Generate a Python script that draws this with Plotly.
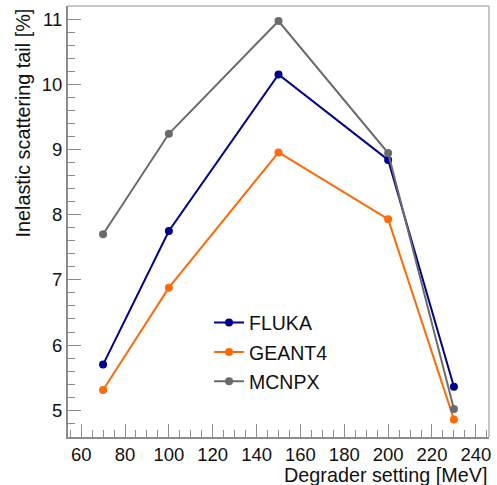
import plotly.graph_objects as go

energy = [70, 100, 150, 200, 230]
fluka = [5.70, 7.75, 10.15, 8.84, 5.36]
geant4 = [5.31, 6.88, 8.955, 7.93, 4.86]
mcnpx = [7.70, 9.24, 10.97, 8.945, 5.02]

series = [("FLUKA", fluka, "#00008f"), ("GEANT4", geant4, "#ff6a08"), ("MCNPX", mcnpx, "#6b6b6b")]

FONT = "Liberation Sans, Arial, Helvetica, sans-serif"
fig = go.Figure()
for i, (name, vals, col) in enumerate(series):
    fig.add_trace(go.Scatter(x=energy, y=vals, name=name, mode="lines+markers",
                             line=dict(color=col, width=2),
                             marker=dict(color=col, size=8),
                             legendgroup=str(i)))

axcol = "#8c8c8c"
fig.update_layout(
    width=497, height=485,
    margin=dict(l=68, r=6, t=6, b=48),
    paper_bgcolor="white", plot_bgcolor="white",
    font=dict(family=FONT, size=18.5, color="#111111"),
    showlegend=True,
    legend=dict(x=0.335, y=0.31, xanchor="left", yanchor="top",
                bgcolor="rgba(0,0,0,0)", tracegroupgap=1,
                font=dict(family=FONT, size=19.5, color="#111111")),
    xaxis=dict(range=[54, 246], dtick=20, tick0=0, ticks="inside", ticklen=13,
               tickcolor=axcol, tickwidth=1, showgrid=False, zeroline=False,
               showline=True, linecolor=axcol, linewidth=2,
               minor=dict(dtick=5, ticks="inside", ticklen=7, tickcolor=axcol, tickwidth=1, showgrid=False),
               tickfont=dict(size=18.5)),
    yaxis=dict(range=[4.59, 11.2], dtick=1, tick0=0, ticks="inside", ticklen=13,
               tickcolor=axcol, tickwidth=1, showgrid=False, zeroline=False,
               showline=True, linecolor=axcol, linewidth=2,
               minor=dict(dtick=0.2, ticks="inside", ticklen=7, tickcolor=axcol, tickwidth=1, showgrid=False),
               tickfont=dict(size=18.5)),
    shapes=[dict(type="line", xref="paper", yref="paper", x0=0, x1=1, y0=1, y1=1,
                 line=dict(color="#b4b4b4", width=1.5)),
            dict(type="line", xref="paper", yref="paper", x0=1, x1=1, y0=0, y1=1,
                 line=dict(color="#b4b4b4", width=1.5))],
    annotations=[
        dict(text="Degrader setting [MeV]", xref="paper", yref="paper", x=1.0, y=-0.088,
             xanchor="right", yanchor="middle", showarrow=False, font=dict(size=19.8)),
        dict(text="Inelastic scattering tail [%]", xref="paper", yref="paper", x=-0.107, y=1.0,
             xanchor="center", yanchor="top", textangle=-90, showarrow=False, font=dict(size=19.8)),
    ],
)
fig.write_html("out.html")
